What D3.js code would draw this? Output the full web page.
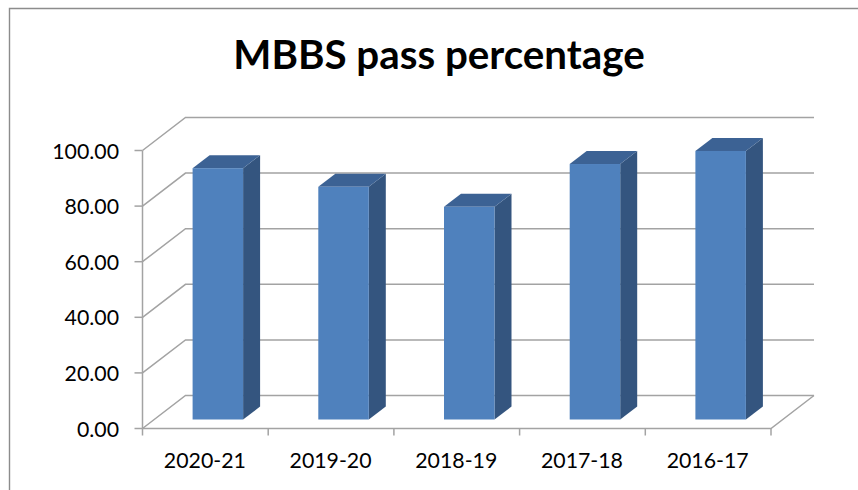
<!DOCTYPE html>
<html><head><meta charset="utf-8">
<script src="https://cdn.jsdelivr.net/npm/d3@7"></script>
<style>html,body{margin:0;padding:0;background:#fff}svg{display:block}text{font-family:Lato,"Open Sans",sans-serif;fill:#000}</style>
</head><body><svg id="c" width="858" height="490"></svg>
<script>
const categories = ["2020-21","2019-20","2018-19","2017-18","2016-17"];
const passPercent = [90.4,83.7,76.5,91.9,96.6];
const yTicks = [0,20,40,60,80,100];
const title = "MBBS pass percentage";

const svg = d3.select("#c");
const depth = {x:43, y:-33};
const y = d3.scaleLinear().domain([0,100]).range([428.5,150.5]);
const x = d3.scaleBand().domain(categories).range([142.5,771]);
const barW = 50.5, barDx = 12.5, barDy = -9, barDepthX = 17, barDepthY = -13;
const grid = "#a3a3a3";

svg.append("path").attr("d","M9.5,490V8.5H858").attr("fill","none").attr("stroke","#8c8c8c").attr("stroke-width",1.4);

svg.append("text").attr("x",439).attr("y",69).attr("text-anchor","middle")
  .attr("font-size",40.3).attr("font-weight",700).text(title);

const g = svg.append("g").attr("fill","none").attr("stroke",grid).attr("stroke-width",1.5);
yTicks.forEach(t=>{
  g.append("path").attr("d",d3.line()([[x.range()[0],y(t)],[x.range()[0]+depth.x,y(t)+depth.y],[x.range()[1]+depth.x,y(t)+depth.y]]));
  g.append("line").attr("x1",x.range()[0]-8).attr("x2",x.range()[0]).attr("y1",y(t)).attr("y2",y(t));
});
g.append("path").attr("d",d3.line()([[x.range()[0],y(0)],[x.range()[1],y(0)],[x.range()[1]+depth.x,y(0)+depth.y]]));
g.append("line").attr("x1",x.range()[0]).attr("x2",x.range()[0]).attr("y1",y(100)).attr("y2",y(0));
[...categories.map(c=>x(c)),x.range()[1]].forEach(px=>{
  g.append("line").attr("x1",px).attr("x2",px).attr("y1",y(0)).attr("y2",y(0)+7);
});

yTicks.forEach(t=>svg.append("text").attr("x",119).attr("y",y(t)+8).attr("text-anchor","end")
  .attr("font-size",21.3).text(d3.format(".2f")(t)));
categories.forEach(c=>svg.append("text").attr("x",x(c)+x.bandwidth()/2-0.5).attr("y",468).attr("text-anchor","middle")
  .attr("font-size",21.3).text(c));

const bars = svg.append("g").selectAll("g").data(categories.map((c,i)=>({c,v:passPercent[i]}))).join("g");
const fx = d=>x(d.c)+barDx+(x.bandwidth()-barW)/2;
const base = y(0)+barDy;
const top_ = d=>base-(y(0)-y(d.v));
bars.append("path").attr("fill","#34557f").attr("d",d=>d3.line()([
  [fx(d)+barW,base],[fx(d)+barW+barDepthX,base+barDepthY],[fx(d)+barW+barDepthX,top_(d)+barDepthY],[fx(d)+barW,top_(d)]])+"Z");
bars.append("path").attr("fill","#3c6294").attr("d",d=>d3.line()([
  [fx(d),top_(d)],[fx(d)+barDepthX,top_(d)+barDepthY],[fx(d)+barW+barDepthX,top_(d)+barDepthY],[fx(d)+barW,top_(d)]])+"Z");
bars.append("rect").attr("fill","#4f81bd").attr("x",fx).attr("y",top_).attr("width",barW).attr("height",d=>base-top_(d));
</script></body></html>
